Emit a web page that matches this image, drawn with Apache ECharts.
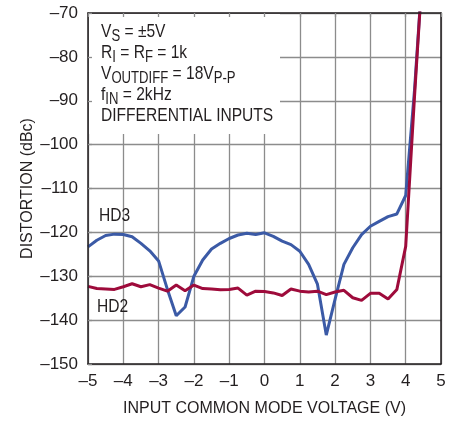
<!DOCTYPE html>
<html>
<head>
<meta charset="utf-8">
<script src="https://cdn.jsdelivr.net/npm/echarts@6/dist/echarts.min.js"></script>
<style>
html,body{margin:0;padding:0;background:#fff;}
#chart{width:459px;height:423px;}
</style>
</head>
<body>
<div id="chart"></div>
<script>
// Input common mode voltage (V)
const xVolts = [-5, -4.75, -4.5, -4.25, -4, -3.75, -3.5, -3.25, -3, -2.75, -2.5, -2.25, -2, -1.75, -1.5, -1.25, -1, -0.75, -0.5, -0.25,
  0, 0.25, 0.5, 0.75, 1, 1.25, 1.5, 1.75, 2, 2.25, 2.5, 2.75, 3, 3.25, 3.5, 3.75, 4, 4.25, 4.5];
// HD3 distortion (dBc)
const hd3 = [-123.3, -121.8, -120.7, -120.4, -120.5, -121.0, -122.5, -124.2, -126.5, -133.0, -139.0, -137.0, -130.0, -126.3, -123.8, -122.5, -121.4, -120.6, -120.2, -120.5,
  -120.1, -120.9, -122.0, -122.8, -124.3, -127.3, -131.8, -143.4, -135.2, -127.3, -123.5, -120.5, -118.6, -117.5, -116.4, -115.8, -111.6, -87.5, -57.5];
// HD2 distortion (dBc)
const hd2 = [-132.3, -132.8, -132.9, -133.0, -132.4, -131.7, -132.4, -131.9, -132.7, -133.4, -132.0, -133.3, -132.0, -132.8, -132.9, -133.1, -133.0, -132.7, -134.3, -133.4,
  -133.5, -133.8, -134.4, -132.9, -133.4, -133.6, -133.4, -134.2, -133.6, -133.2, -134.9, -135.5, -133.9, -133.9, -135.2, -133.0, -123.2, -89.0, -57.0];
// Tick labels
const xTickValues = [-5, -4, -3, -2, -1, 0, 1, 2, 3, 4, 5];
const xTickLabels = ['–5', '–4', '–3', '–2', '–1', '0', '1', '2', '3', '4', '5'];
const yTickValues = [-150, -140, -130, -120, -110, -100, -90, -80, -70];
const yTickLabels = ['–150', '–140', '–130', '–120', '–110', '–100', '–90', '–80', '–70'];
const seriesNames = ['HD3', 'HD2'];
const xTitle = 'INPUT COMMON MODE VOLTAGE (V)';
const yTitle = 'DISTORTION (dBc)';

const FONT = "'Liberation Sans', Arial, sans-serif";
const TXT = '#231f20';
const GRIDC = '#8c8c8c';
const NARROW = 0.82;

function lab(vals, labels) {
  return function (v) {
    for (let i = 0; i < vals.length; i++) if (Math.abs(vals[i] - v) < 1e-6) return labels[i];
    return '';
  };
}

const chart = echarts.init(document.getElementById('chart'), null, {renderer: 'canvas'});

const richStyle = {
  n: {fontFamily: FONT, fontSize: 19, lineHeight: 22, fill: TXT, color: TXT},
  s: {fontFamily: FONT, fontSize: 16, lineHeight: 22, padding: [9, 0, 0, 0], fill: TXT, color: TXT}
};
const noteLines = [
  '{n|V}{s|S}{n| = ±5V}',
  '{n|R}{s|I}{n| = R}{s|F}{n| = 1k}',
  '{n|V}{s|OUTDIFF}{n| = 18V}{s|P-P}',
  '{n|f}{s|IN}{n| = 2kHz}',
  '{n|DIFFERENTIAL INPUTS}'
];

const graphics = [{
  type: 'rect', z: 1,
  shape: {x: 89, y: 14, width: 191, height: 120},
  style: {fill: '#fff'}
}];
noteLines.forEach(function (t, i) {
  graphics.push({
    type: 'text', z: 5, x: 101, y: 31.7 + 21 * i, scaleX: NARROW,
    style: {text: t, rich: richStyle, verticalAlign: 'middle', align: 'left', fill: TXT}
  });
});
graphics.push({type: 'text', z: 5, x: 99, y: 216, scaleX: NARROW,
  style: {text: seriesNames[0], font: '19px ' + FONT, fill: TXT, verticalAlign: 'middle'}});
graphics.push({type: 'text', z: 5, x: 97, y: 306.5, scaleX: NARROW,
  style: {text: seriesNames[1], font: '19px ' + FONT, fill: TXT, verticalAlign: 'middle'}});

const tickText = {fontFamily: FONT, fontSize: 17, color: TXT};
const titleText = {fontFamily: FONT, fontSize: 16, color: TXT};

chart.setOption({
  animation: false,
  backgroundColor: '#fff',
  grid: {left: 88, right: 18, top: 13, bottom: 59, containLabel: false},
  xAxis: [{
    type: 'value', position: 'bottom', min: -5, max: 5, interval: 1, z: 0,
    axisLine: {show: true, onZero: false, lineStyle: {color: TXT, width: 1.5}},
    axisTick: {show: false},
    axisLabel: Object.assign({margin: 9, formatter: lab(xTickValues, xTickLabels)}, tickText),
    splitLine: {show: true, lineStyle: {color: GRIDC, width: 1.3}},
    name: xTitle, nameLocation: 'middle', nameGap: 37, nameMoveOverlap: false,
    nameTextStyle: titleText
  }, {
    type: 'value', position: 'top', min: -5, max: 5, interval: 1, z: 3,
    axisLine: {show: true, onZero: false, lineStyle: {color: TXT, width: 1.5}},
    axisTick: {show: true, inside: true, length: 4, lineStyle: {color: GRIDC, width: 1.3}},
    axisLabel: {show: false},
    splitLine: {show: false}
  }],
  yAxis: [{
    type: 'value', position: 'left', min: -150, max: -70, interval: 10, z: 3,
    axisLine: {show: true, onZero: false, lineStyle: {color: TXT, width: 1.5}},
    axisTick: {show: true, inside: true, length: 4, lineStyle: {color: GRIDC, width: 1.3}},
    axisLabel: Object.assign({margin: 10, formatter: lab(yTickValues, yTickLabels)}, tickText),
    splitLine: {show: false},
    name: yTitle, nameLocation: 'middle', nameGap: 52, nameRotate: 90, nameMoveOverlap: false,
    nameTextStyle: titleText
  }, {
    type: 'value', position: 'right', min: -150, max: -70, interval: 10, z: 0,
    axisLine: {show: true, onZero: false, lineStyle: {color: TXT, width: 1.5}},
    axisTick: {show: false},
    axisLabel: {show: false},
    splitLine: {show: true, lineStyle: {color: GRIDC, width: 1.3}}
  }],
  series: [{
    name: seriesNames[0], type: 'line', xAxisIndex: 0, yAxisIndex: 0, z: 2,
    data: xVolts.map(function (x, i) { return [x, hd3[i]]; }),
    showSymbol: false, symbol: 'none', clip: true,
    lineStyle: {color: '#3b5aa6', width: 3}
  }, {
    name: seriesNames[1], type: 'line', xAxisIndex: 0, yAxisIndex: 0, z: 2,
    data: xVolts.map(function (x, i) { return [x, hd2[i]]; }),
    showSymbol: false, symbol: 'none', clip: true,
    lineStyle: {color: '#9e0b3b', width: 3}
  }],
  graphic: graphics
});
</script>
</body>
</html>
